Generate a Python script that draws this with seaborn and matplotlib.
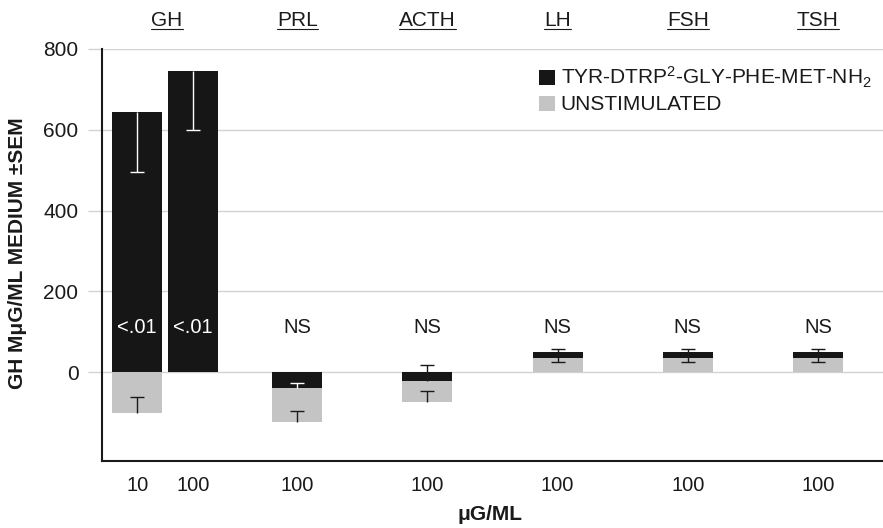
import numpy as np
import pandas as pd
import matplotlib.pyplot as plt
import seaborn as sns
from matplotlib.lines import Line2D

sns.set_theme(style='white')
plt.rcParams['font.family'] = ['Liberation Sans', 'DejaVu Sans']
plt.rcParams['mathtext.fontset'] = 'custom'
plt.rcParams['mathtext.rm'] = 'Liberation Sans'
plt.rcParams['mathtext.default'] = 'regular'

# hormones (one group each) and the dose under every bar
hormones = ['GH', 'PRL', 'ACTH', 'LH', 'FSH', 'TSH']
doses = ['10', '100', '100', '100', '100', '100', '100']

# GH release, mug/ml medium
stimulated = [644, 745, -39, -22, 49, 49, 49]
unstimulated = [-101, np.nan, -123, -73, 35, 35, 35]

# SEM bar ends
stim_err_lo = [495, 600, -39, -22, 25, 25, 25]
stim_err_hi = [644, 745, -28, 17, 58, 58, 58]
unstim_err_lo = [-101, np.nan, -123, -73, np.nan, np.nan, np.nan]
unstim_err_hi = [-61, np.nan, -96, -47, np.nan, np.nan, np.nan]

signif = ['<.01', '<.01', 'NS', 'NS', 'NS', 'NS', 'NS']
signif_level = 111

peptide = 'TYR-DTRP$^2$-GLY-PHE-MET-NH$_2$'
basal = 'UNSTIMULATED'

# bar centres on a numeric axis, one unit per hormone
bar_x = [0.27, 0.70, 1.5, 2.5, 3.5, 4.5, 5.5]
bar_w = 0.385

df = pd.DataFrame({
    'x': bar_x * 2,
    'value': stimulated + unstimulated,
    'series': [peptide] * 7 + [basal] * 7,
}).dropna()

ink = '#1a1a1a'
grid_c = '#d2d2d2'

fig = plt.figure(figsize=(8.83, 5.28), dpi=100)
ax = fig.add_axes([102 / 883, 67 / 528, 781 / 883, 412 / 528])

sns.barplot(data=df, x='x', y='value', hue='series', hue_order=[peptide, basal],
            palette={peptide: '#161616', basal: '#c4c4c4'}, native_scale=True,
            dodge=False, errorbar=None, linewidth=0,
            width=bar_w / np.diff(np.unique(df['x'])).min(), ax=ax)

# smaller bar of each pair sits on top
for p in ax.patches:
    p.set_zorder(2 - abs(p.get_height()) / 1000)

# error bars, cap only at the free end
for i, x in enumerate(bar_x):
    pairs = [(stimulated[i], stim_err_lo[i], stim_err_hi[i], True),
             (unstimulated[i], unstim_err_lo[i], unstim_err_hi[i], False)]
    for v, lo, hi, is_stim in pairs:
        if np.isnan(lo):
            continue
        inside = is_stim and min(0, v) <= lo and hi <= max(0, v)
        c = 'white' if inside else ink
        ax.vlines(x, lo, hi, color=c, lw=1, zorder=3)
        ends = [e for e in (lo, hi) if e != v]
        ax.plot([x] * len(ends), ends, ls='none', marker='_', ms=9.5, mew=1,
                color=c, zorder=3)

for x, s, v in zip(bar_x, signif, stimulated):
    ax.text(x, signif_level, s, ha='center', va='center', fontsize=14.5,
            color='white' if v > signif_level else ink, zorder=4)

ax.set_xlim(0, 6)
ax.set_ylim(-220, 800)
ax.set_yticks([0, 200, 400, 600, 800])
ax.set_xticks(bar_x)
ax.set_xticklabels(doses)
ax.set_xticks(range(7), minor=True)
ax.tick_params(axis='x', which='major', length=0, pad=11, labelsize=14.5, labelcolor=ink)
ax.tick_params(axis='x', which='minor', length=10, width=1, color=grid_c, direction='out')
ax.tick_params(axis='y', length=10, width=1, color=grid_c, direction='out', pad=7,
               labelsize=15, labelcolor=ink, left=True)
ax.yaxis.grid(True, color=grid_c, lw=1)
ax.set_axisbelow(True)
for side in ['top', 'right']:
    ax.spines[side].set_visible(False)
for side in ['left', 'bottom']:
    ax.spines[side].set_color(ink)
    ax.spines[side].set_linewidth(1.5)

ax.set_xlabel('μG/ML', fontsize=15, fontweight='bold', color=ink)
ax.xaxis.set_label_coords(0.497, -0.108)
ax.set_ylabel('GH MμG/ML MEDIUM ±SEM', fontsize=15, fontweight='bold', color=ink)
ax.yaxis.set_label_coords(-0.096, 0.504)

sns.move_legend(ax, 'upper left', bbox_to_anchor=(0.5595, 0.961), title=None,
                frameon=False, fontsize=15, handlelength=0.75, handleheight=0.75,
                handletextpad=0.3, labelspacing=0.25, borderpad=0, borderaxespad=0)
for t in ax.get_legend().get_texts():
    t.set_color(ink)

# underlined hormone names above each group
tops = [ax.text(k + 0.5, 1.07, h, transform=ax.get_xaxis_transform(), ha='center',
                va='center', fontsize=15, color=ink) for k, h in enumerate(hormones)]
fig.canvas.draw()
inv = fig.transFigure.inverted()
for t in tops:
    bb = t.get_window_extent()
    (x0, y0), (x1, _) = inv.transform([(bb.x0, bb.y0 + 1), (bb.x1, bb.y0 + 1)])
    fig.add_artist(Line2D([x0, x1], [y0, y0], transform=fig.transFigure, color=ink, lw=0.8))

fig.savefig('out.png', dpi=100)
